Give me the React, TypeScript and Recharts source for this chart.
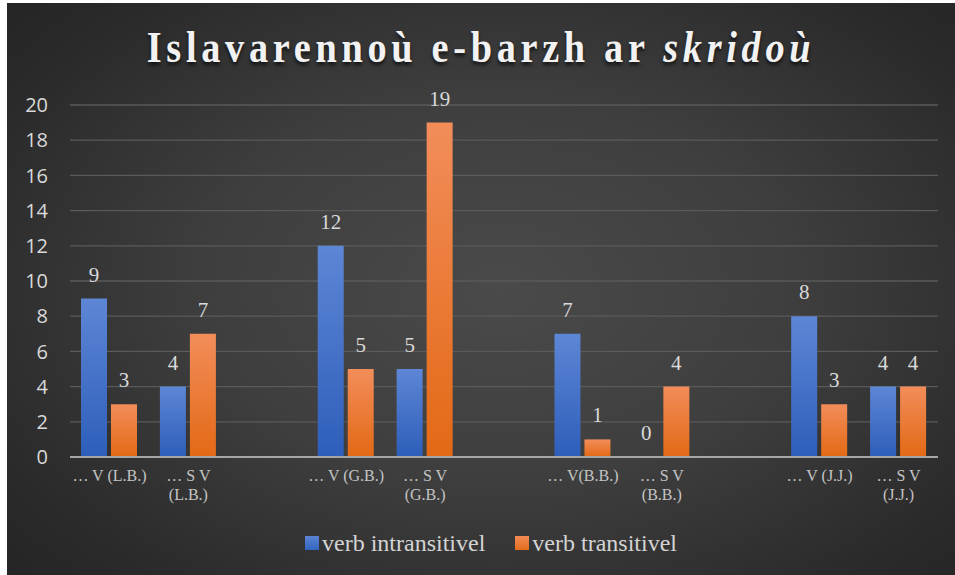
import React from "react";
import { BarChart, Bar, XAxis, YAxis, CartesianGrid, Legend, LabelList } from "recharts";

const categories = [
  "… V (L.B.)", "… S V (L.B.)", "",
  "… V (G.B.)", "… S V (G.B.)", "",
  "… V(B.B.)", "… S V (B.B.)", "",
  "… V (J.J.)", "… S V (J.J.)",
];
const intransitive = [9, 4, null, 12, 5, null, 7, 0, null, 8, 4];
const transitive = [3, 7, null, 5, 19, null, 1, 4, null, 3, 4];
const yTicks = [0, 2, 4, 6, 8, 10, 12, 14, 16, 18, 20];
const seriesNames = ["verb intransitivel", "verb transitivel"];

const data = categories.map((c, i) => ({
  category: c,
  intr: intransitive[i],
  tr: transitive[i],
}));

const SERIF = "Liberation Serif";
const W = 948;
const H = 572;

const CategoryTick = (props: any) => {
  const { x, y, payload } = props;
  const label: string = payload?.value ?? "";
  if (!label) return null;
  let lines = [label];
  if (label.startsWith("… S")) {
    const idx = label.lastIndexOf(" (");
    lines = [label.slice(0, idx), label.slice(idx + 1)];
  }
  return (
    <text x={x} y={y} textAnchor="middle" fill="#c4c4c4" style={{ fontSize: 16, fontFamily: SERIF }}>
      {lines.map((l, i) => (
        <tspan key={i} x={x} dy={i === 0 ? 24 : 19}>
          {l}
        </tspan>
      ))}
    </text>
  );
};

const ValueLabel = (props: any) => {
  const { x, y, width, height, value } = props;
  if (value === null || value === undefined) return null;
  const top = Math.min(Number(y), Number(y) + Number(height || 0));
  return (
    <text
      x={Number(x) + Number(width) / 2}
      y={top - 17}
      textAnchor="middle"
      fill="#d9d9d9"
      style={{ fontSize: 21, fontFamily: SERIF }}
    >
      {Array.isArray(value) ? value[1] : value}
    </text>
  );
};

const tinyForZero = (value: any) => (value === 0 || (Array.isArray(value) && value[1] === 0) ? 0.01 : 0);

const LegendContent = () => (
  <div
    style={{
      width: W,
      height: 30,
      display: "flex",
      justifyContent: "center",
      alignItems: "center",
      paddingLeft: 20,
      boxSizing: "border-box",
      fontFamily: SERIF,
      fontSize: 24,
      color: "#d4d4d4",
    }}
  >
    <div style={{ display: "flex", alignItems: "center", marginRight: 30 }}>
      <div style={{ width: 14, height: 14, background: "linear-gradient(#5b84d3, #3264c0)", marginRight: 3 }} />
      <span>{seriesNames[0]}</span>
    </div>
    <div style={{ display: "flex", alignItems: "center" }}>
      <div style={{ width: 14, height: 14, background: "linear-gradient(#f18b55, #e56d1c)", marginRight: 3 }} />
      <span>{seriesNames[1]}</span>
    </div>
  </div>
);

export default function App() {
  return (
    <div
      style={{
        position: "absolute",
        left: 7,
        top: 3,
        width: W,
        height: H,
        background:
          "radial-gradient(ellipse 70% 75% at 52% 50%, #4a4a4a 0%, #3e3e3e 45%, #2a2a2a 85%, #252525 100%)",
        overflow: "hidden",
      }}
    >
      <div
        style={{
          position: "absolute",
          left: 0,
          top: 23,
          width: W,
          textAlign: "center",
          fontFamily: SERIF,
          fontWeight: "bold",
          fontSize: 44,
          lineHeight: "44px",
          letterSpacing: 5.4,
          color: "#f2f2f2",
          textShadow: "0 3px 4px rgba(0,0,0,0.65)",
          whiteSpace: "nowrap",
          transform: "scaleX(0.87)",
          transformOrigin: "center",
        }}
      >
        Islavarennoù e-barzh ar <i>skridoù</i>
      </div>
      <BarChart
        width={W}
        height={H}
        data={data}
        margin={{ top: 102, right: 17, left: 13, bottom: 38 }}
        barGap={4}
        barSize={26}
      >
        <defs>
          <linearGradient id="gBlue" x1="0" y1="0" x2="0" y2="1">
            <stop offset="0%" stopColor="#5d86d5" />
            <stop offset="100%" stopColor="#2e5eba" />
          </linearGradient>
          <linearGradient id="gOrange" x1="0" y1="0" x2="0" y2="1">
            <stop offset="0%" stopColor="#f28d5a" />
            <stop offset="100%" stopColor="#e36915" />
          </linearGradient>
        </defs>
        <CartesianGrid vertical={false} stroke="#5a5a5a" strokeWidth={1.3} />
        <XAxis
          dataKey="category"
          interval={0}
          tickLine={false}
          tickSize={0}
          tickMargin={0}
          height={50}
          axisLine={{ stroke: "#a6a6a6", strokeWidth: 2 }}
          tick={<CategoryTick />}
        />
        <YAxis
          domain={[0, 20]}
          ticks={yTicks}
          interval={0}
          width={50}
          axisLine={false}
          tickLine={false}
          tickSize={6}
          tickMargin={16}
          tick={{ fill: "#d9d9d9", fontSize: 20, fontFamily: "'Open Sans', sans-serif" }}
        />
        <Legend
          verticalAlign="bottom"
          height={30}
          content={<LegendContent />}
          wrapperStyle={{ left: 0, top: 525, width: W, height: 30 }}
        />
        <Bar dataKey="intr" name={seriesNames[0]} fill="url(#gBlue)" minPointSize={tinyForZero} isAnimationActive={false}>
          <LabelList dataKey="intr" content={<ValueLabel />} />
        </Bar>
        <Bar dataKey="tr" name={seriesNames[1]} fill="url(#gOrange)" isAnimationActive={false}>
          <LabelList dataKey="tr" content={<ValueLabel />} />
        </Bar>
      </BarChart>
    </div>
  );
}
